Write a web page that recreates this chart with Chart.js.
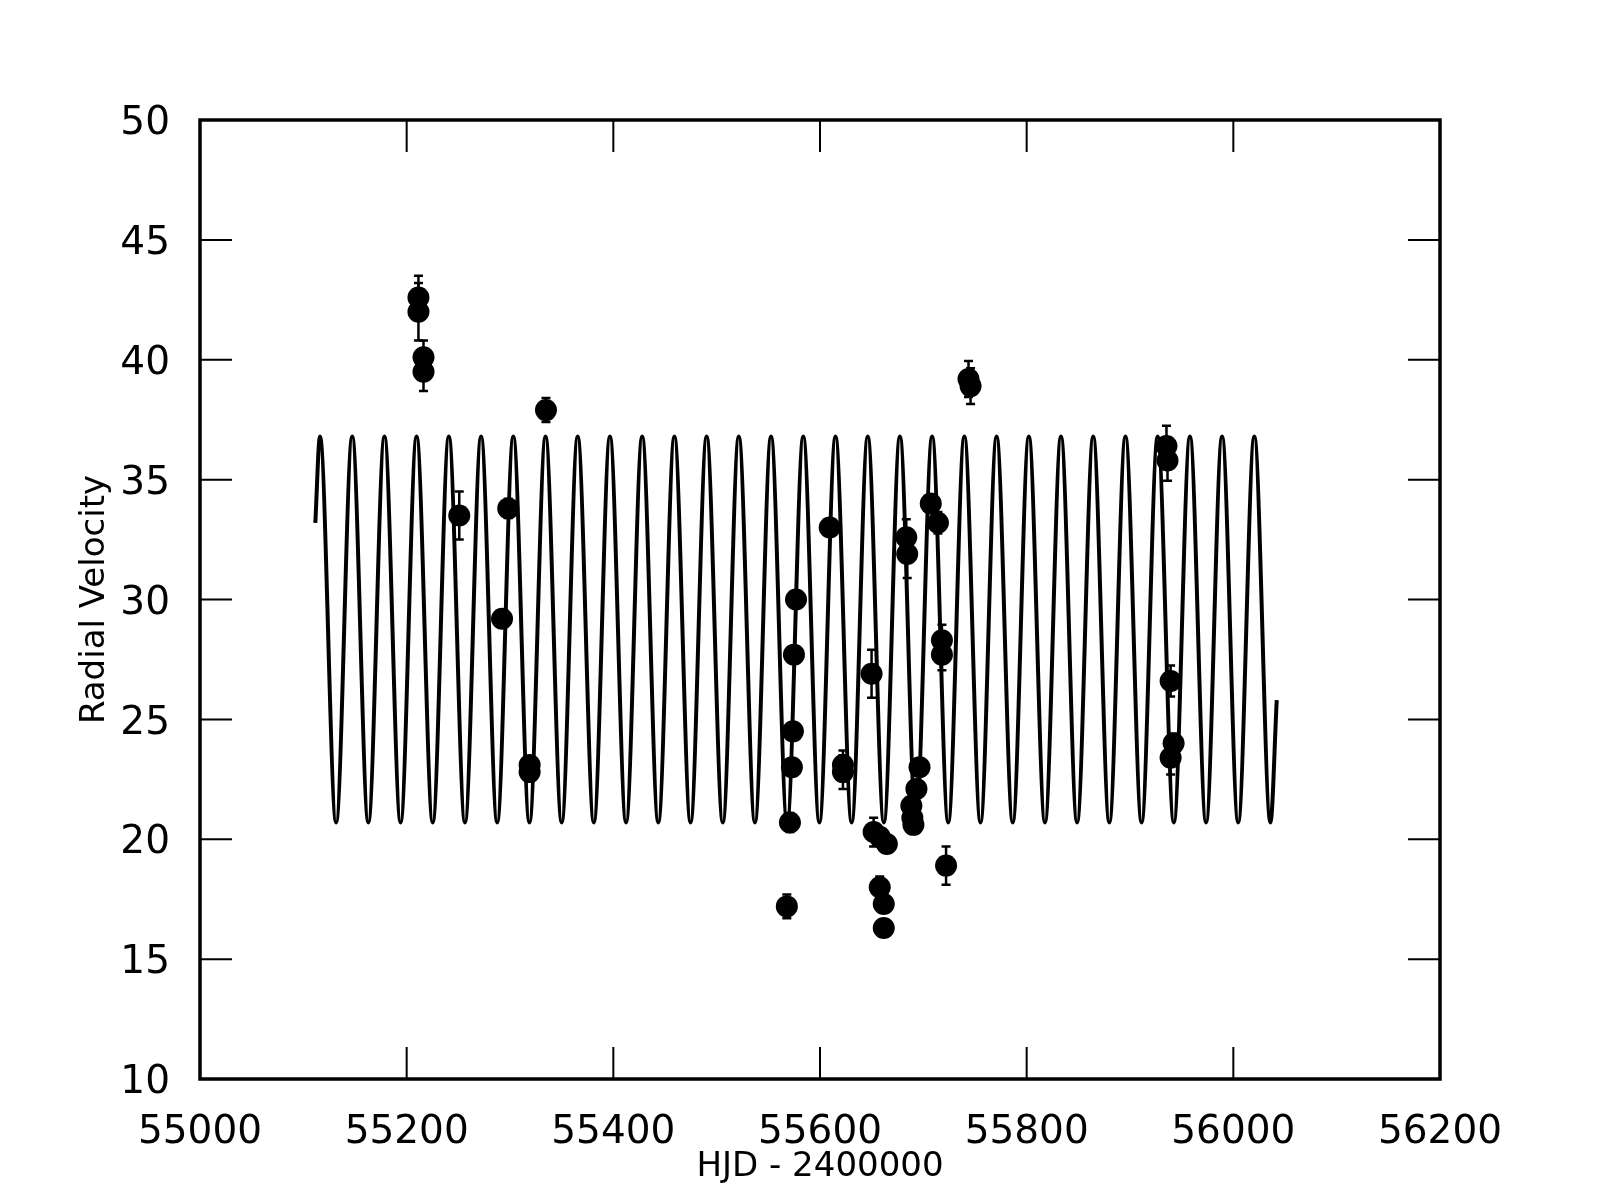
<!DOCTYPE html>
<html>
<head>
<meta charset="utf-8">
<script src="https://cdn.jsdelivr.net/npm/chart.js@4.4.1/dist/chart.umd.min.js"></script>
<style>
  html, body { margin: 0; padding: 0; background: #fff; }
  canvas { display: block; }
</style>
</head>
<body>
<canvas id="rvChart" width="1600" height="1200"></canvas>
<script>
// observed radial velocities (HJD - 2400000), with 1-sigma errors
const obsDays = [55211.4, 55211.4, 55216.3, 55216.3, 55250.9, 55292.3, 55298.3, 55319.0, 55319.0, 55334.8,
    55567.9, 55570.9, 55572.8, 55573.8, 55574.8, 55576.8, 55609.4, 55622.2, 55622.2, 55649.9,
    55651.9, 55657.8, 55657.8, 55661.7, 55661.7, 55664.7, 55683.5, 55684.4, 55688.4, 55689.4,
    55690.4, 55693.3, 55696.3, 55707.2, 55714.1, 55718.0, 55718.0, 55722.0, 55743.7, 55745.7,
    55935.3, 55936.3, 55939.3, 55939.3, 55942.2];
const obsVel = [42.6, 42.0, 40.1, 39.5, 33.5, 29.2, 33.8, 23.1, 22.8, 37.9,
    17.2, 20.7, 23.0, 24.5, 27.7, 30.0, 33.0, 23.1, 22.8, 26.9,
    20.3, 20.1, 18.0, 17.3, 16.3, 19.8, 32.6, 31.9, 21.4, 20.9,
    20.6, 22.1, 23.0, 34.0, 33.2, 28.3, 27.7, 18.9, 39.2, 38.9,
    36.4, 35.8, 26.6, 23.4, 24.0];
const obsErr = [0.9, 1.2, 0.7, 0.8, 1.0, 0.3, 0.4, 0.3, 0.3, 0.5,
    0.5, 0.4, 0.3, 0.3, 0.3, 0.3, 0.3, 0.6, 0.7, 1.0,
    0.6, 0.3, 0.45, 0.3, 0.3, 0.3, 0.75, 1.0, 0.3, 0.3,
    0.3, 0.3, 0.3, 0.3, 0.45, 0.65, 0.65, 0.8, 0.75, 0.75,
    0.85, 0.85, 0.65, 0.7, 0.4];

// model curve: start, alternating maxima / minima, end
const curveDays = [55111.6, 55116.1, 55131.7, 55147.3, 55162.9, 55178.5, 55194.1, 55209.6, 55225.2, 55240.8,
    55256.4, 55272.0, 55287.6, 55303.2, 55318.8, 55334.4, 55350.0, 55365.5, 55381.1, 55396.7,
    55412.3, 55427.9, 55443.5, 55459.1, 55474.7, 55490.3, 55505.9, 55521.4, 55537.0, 55552.6,
    55568.2, 55583.8, 55599.4, 55615.0, 55630.6, 55646.2, 55661.8, 55677.3, 55692.9, 55708.5,
    55724.1, 55739.7, 55755.3, 55770.9, 55786.5, 55802.1, 55817.7, 55833.2, 55848.8, 55864.4,
    55880.0, 55895.6, 55911.2, 55926.8, 55942.4, 55958.0, 55973.6, 55989.1, 56004.7, 56020.3,
    56035.9, 56042.0];
const curveVel = [33.2, 36.8, 20.7, 36.8, 20.7, 36.8, 20.7, 36.8, 20.7, 36.8,
    20.7, 36.8, 20.7, 36.8, 20.7, 36.8, 20.7, 36.8, 20.7, 36.8,
    20.7, 36.8, 20.7, 36.8, 20.7, 36.8, 20.7, 36.8, 20.7, 36.8,
    20.7, 36.8, 20.7, 36.8, 20.7, 36.8, 20.7, 36.8, 20.7, 36.8,
    20.7, 36.8, 20.7, 36.8, 20.7, 36.8, 20.7, 36.8, 20.7, 36.8,
    20.7, 36.8, 20.7, 36.8, 20.7, 36.8, 20.7, 36.8, 20.7, 36.8,
    20.7, 25.8];

const xTicks = [55000, 55200, 55400, 55600, 55800, 56000, 56200];
const yTicks = [10, 15, 20, 25, 30, 35, 40, 45, 50];

const FONT = 'DejaVu Sans';

// error bars with small caps
const errorBars = {
    id: 'errorBars',
    afterDatasetsDraw(chart) {
        const { ctx, scales: { x, y } } = chart;
        ctx.save();
        ctx.strokeStyle = '#000';
        ctx.lineWidth = 2.5;
        obsDays.forEach((d, i) => {
            const px = x.getPixelForValue(d);
            const top = y.getPixelForValue(obsVel[i] + obsErr[i]);
            const bot = y.getPixelForValue(obsVel[i] - obsErr[i]);
            ctx.beginPath();
            ctx.moveTo(px, top); ctx.lineTo(px, bot);
            ctx.moveTo(px - 4.5, top); ctx.lineTo(px + 4.5, top);
            ctx.moveTo(px - 4.5, bot); ctx.lineTo(px + 4.5, bot);
            ctx.stroke();
        });
        ctx.restore();
    }
};

// box frame and inward ticks on all four sides
const frame = {
    id: 'frame',
    afterDraw(chart) {
        const { ctx, chartArea: a, scales: { x, y } } = chart;
        ctx.save();
        ctx.strokeStyle = '#000';
        ctx.lineWidth = 2;
        ctx.beginPath();
        xTicks.forEach(v => {
            const px = x.getPixelForValue(v);
            ctx.moveTo(px, a.bottom); ctx.lineTo(px, a.bottom - 32);
            ctx.moveTo(px, a.top); ctx.lineTo(px, a.top + 32);
        });
        yTicks.forEach(v => {
            const py = y.getPixelForValue(v);
            ctx.moveTo(a.left, py); ctx.lineTo(a.left + 32, py);
            ctx.moveTo(a.right, py); ctx.lineTo(a.right - 32, py);
        });
        ctx.stroke();
        ctx.lineWidth = 3.5;
        ctx.strokeRect(a.left, a.top, a.right - a.left, a.bottom - a.top);
        ctx.restore();
    }
};

new Chart(document.getElementById('rvChart'), {
    type: 'scatter',
    data: {
        datasets: [{
            label: 'model',
            data: curveDays.map((d, i) => ({ x: d, y: curveVel[i] })),
            showLine: true,
            borderColor: '#000',
            borderWidth: 4,
            pointRadius: 0,
            cubicInterpolationMode: 'monotone',
            order: 2
        }, {
            label: 'RV',
            data: obsDays.map((d, i) => ({ x: d, y: obsVel[i] })),
            backgroundColor: '#000',
            borderColor: '#000',
            borderWidth: 0,
            pointRadius: 11,
            order: 1
        }]
    },
    options: {
        responsive: false,
        animation: false,
        events: [],
        layout: { padding: { top: 120, right: 160, left: 0, bottom: 0 } },
        plugins: { legend: { display: false }, tooltip: { enabled: false } },
        scales: {
            x: {
                type: 'linear',
                min: 55000,
                max: 56200,
                afterFit: s => { s.height = 121; },
                afterBuildTicks: s => { s.ticks = xTicks.map(v => ({ value: v })); },
                grid: { display: false, drawTicks: false },
                border: { display: false },
                ticks: {
                    color: '#000',
                    padding: 30,
                    maxRotation: 0,
                    font: { family: FONT, size: 39 },
                    callback: v => String(v)
                },
                title: {
                    display: true,
                    text: 'HJD - 2400000',
                    color: '#000',
                    font: { family: FONT, size: 34 },
                    padding: { top: 0, bottom: 12 }
                }
            },
            y: {
                type: 'linear',
                min: 10,
                max: 50,
                afterFit: s => { s.width = 200; },
                afterBuildTicks: s => { s.ticks = yTicks.map(v => ({ value: v })); },
                grid: { display: false, drawTicks: false },
                border: { display: false },
                ticks: {
                    color: '#000',
                    padding: 30,
                    labelOffset: 4,
                    font: { family: FONT, size: 39 },
                    callback: v => String(v)
                },
                title: {
                    display: true,
                    text: 'Radial Velocity',
                    color: '#000',
                    font: { family: FONT, size: 34 },
                    padding: { top: 75, bottom: 0 }
                }
            }
        }
    },
    plugins: [errorBars, frame]
});
</script>
</body>
</html>
